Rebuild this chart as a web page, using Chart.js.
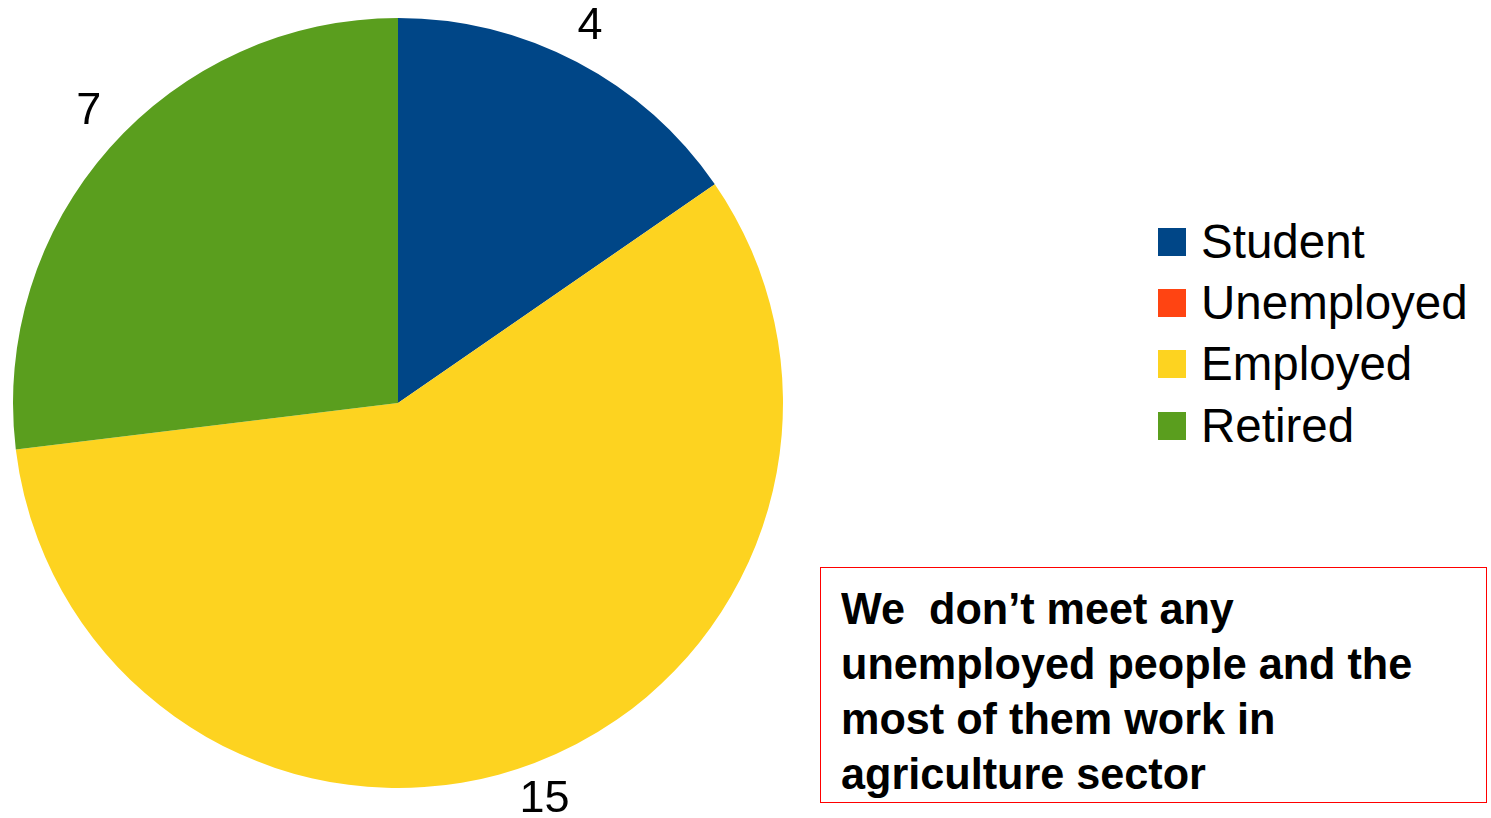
<!DOCTYPE html>
<html>
<head>
<meta charset="utf-8">
<script src="https://cdn.jsdelivr.net/npm/chart.js@4/dist/chart.umd.min.js"></script>
<style>
  html, body { margin: 0; padding: 0; background: #fff; }
  body { width: 1491px; height: 818px; position: relative; overflow: hidden; font-family: "Liberation Sans", Arial, sans-serif; }
  #pieWrap { position: absolute; left: 0; top: 0; width: 796px; height: 818px; }
  #legend { position: absolute; left: 1158px; top: 211px; }
  .item { height: 61.3px; display: flex; align-items: center; }
  .box { width: 28px; height: 28px; margin-right: 15px; }
  .lbl { font-size: 47.5px; color: #000; line-height: 1; }
  #note { position: absolute; left: 820px; top: 567px; width: 667px; height: 236px; border: 1.5px solid #ff0000; box-sizing: border-box; }
  #note p { margin: 0; position: absolute; left: 20px; top: 13px; font-family: "Liberation Sans", Arial, sans-serif; font-weight: bold; font-size: 45px; line-height: 55px; color: #000; white-space: nowrap; transform: scaleX(0.96); transform-origin: 0 0; }
</style>
</head>
<body>
<div id="pieWrap"><canvas id="pie"></canvas></div>
<div id="legend"></div>
<div id="note"><p>We&nbsp; don’t meet any<br>unemployed people and the<br>most of them work in<br>agriculture sector</p></div>
<script>
const categories = ["Student", "Unemployed", "Employed", "Retired"];
const counts = [4, 0, 15, 7];
const sliceColors = ["#004687", "#FF4412", "#FDD320", "#5A9E1E"];

// Value labels just outside the rim of each non-empty slice
const outsideLabels = {
  id: "outsideLabels",
  afterDatasetsDraw(chart) {
    const ctx = chart.ctx;
    const meta = chart.getDatasetMeta(0);
    ctx.save();
    ctx.font = '45px "Liberation Sans", Arial, sans-serif';
    ctx.fillStyle = "#000";
    ctx.textAlign = "center";
    ctx.textBaseline = "middle";
    meta.data.forEach((arc, i) => {
      const v = chart.data.datasets[0].data[i];
      if (!v) return;
      const p = arc.getProps(["x", "y", "startAngle", "endAngle", "outerRadius"], true);
      const mid = (p.startAngle + p.endAngle) / 2;
      const dx = Math.cos(mid), dy = Math.sin(mid);
      const rimX = p.x + dx * p.outerRadius;
      const rimY = p.y + dy * p.outerRadius;
      const lx = rimX + dx * 28;
      const ly = rimY + (dy < 0 ? -37 : 36);
      ctx.fillText(String(v), lx, ly + 1);
    });
    ctx.restore();
  }
};

const chart = new Chart(document.getElementById("pie"), {
  type: "pie",
  data: {
    labels: categories,
    datasets: [{ data: counts, backgroundColor: sliceColors, borderWidth: 0 }]
  },
  options: {
    responsive: true,
    maintainAspectRatio: false,
    animation: false,
    layout: { padding: { left: 13, right: 13, top: 18, bottom: 30 } },
    plugins: { legend: { display: false }, tooltip: { enabled: false } }
  },
  plugins: [outsideLabels]
});

// Legend built from the chart's own labels and colours
const legendEl = document.getElementById("legend");
chart.data.labels.forEach((name, i) => {
  const row = document.createElement("div");
  row.className = "item";
  const box = document.createElement("span");
  box.className = "box";
  box.style.background = chart.data.datasets[0].backgroundColor[i];
  const txt = document.createElement("span");
  txt.className = "lbl";
  txt.textContent = name;
  row.appendChild(box);
  row.appendChild(txt);
  legendEl.appendChild(row);
});
</script>
</body>
</html>
